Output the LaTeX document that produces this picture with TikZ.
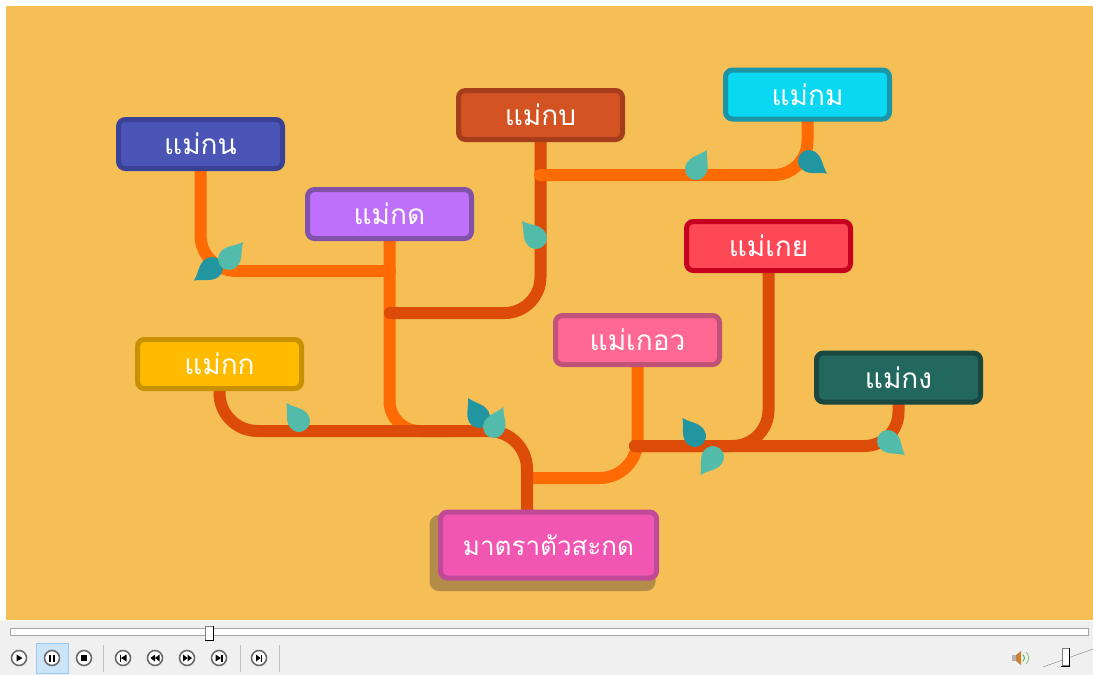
\documentclass[tikz,border=0pt]{standalone}
\usepackage{fontspec}
\newfontfamily\thaifont[Script=Thai]{Loma}
\usetikzlibrary{backgrounds}

\definecolor{stage}{HTML}{F5BF56}
\definecolor{barcol}{HTML}{F0F0F0}
\definecolor{twigcol}{HTML}{FE6A04}
\definecolor{stemcol}{HTML}{DC4B08}
\definecolor{leafA}{HTML}{52BBAA}
\definecolor{leafB}{HTML}{2196A0}
\definecolor{shadowcol}{HTML}{B28C48}
\definecolor{knfill}{HTML}{4A55B5}\definecolor{knline}{HTML}{3A4296}
\definecolor{kdfill}{HTML}{BF70FA}\definecolor{kdline}{HTML}{8052AA}
\definecolor{kbfill}{HTML}{D35322}\definecolor{kbline}{HTML}{A63E1E}
\definecolor{kmfill}{HTML}{0AD7F2}\definecolor{kmline}{HTML}{1A96A8}
\definecolor{koeyfill}{HTML}{FF4855}\definecolor{koeyline}{HTML}{C80020}
\definecolor{keowfill}{HTML}{FF6892}\definecolor{keowline}{HTML}{C0527A}
\definecolor{kkfill}{HTML}{FFBB00}\definecolor{kkline}{HTML}{C99000}
\definecolor{kngfill}{HTML}{22685E}\definecolor{kngline}{HTML}{1A4840}
\definecolor{rootfill}{HTML}{F056B2}\definecolor{rootline}{HTML}{C04A98}
\definecolor{hlfill}{HTML}{CCE4F7}\definecolor{hlline}{HTML}{99C9EF}

\begin{document}
\begin{tikzpicture}[x=1pt,y=-1pt,
    mae/.style={draw, line width=5pt, rounded corners=7pt, inner sep=0pt,
      minimum width=164pt, minimum height=49pt, text=white,
      font=\thaifont\fontsize{28}{30}\selectfont},
    twig/.style={draw=twigcol, line width=12pt, line cap=round, rounded corners=36pt},
    stem/.style={twig, draw=stemcol},
    leaf/.pic={\fill[pic actions] (0,-22) .. controls (4,-13) and (11,-9) .. (11,0)
      .. controls (11,6) and (6,11) .. (0,11) .. controls (-6,11) and (-11,6) .. (-11,0)
      .. controls (-11,-9) and (-4,-13) .. (0,-22) -- cycle;}]
    \useasboundingbox (0,0) rectangle (1093,675);

    \node[mae, fill=knfill, draw=knline] (kn) at (200.5,144) {แม่กน};
    \node[mae, fill=kdfill, draw=kdline] (kd) at (389.5,214) {แม่กด};
    \node[mae, fill=kbfill, draw=kbline] (kb) at (540.5,115) {แม่กบ};
    \node[mae, fill=kmfill, draw=kmline] (km) at (807.5,94.5) {แม่กม};
    \node[mae, fill=koeyfill, draw=koeyline] (koey) at (768.5,246) {แม่เกย};
    \node[mae, fill=keowfill, draw=keowline] (keow) at (637.5,340) {แม่เกอว};
    \node[mae, fill=kkfill, draw=kkline] (kk) at (219.5,364) {แม่กก};
    \node[mae, fill=kngfill, draw=kngline] (kng) at (898.5,377.5) {แม่กง};
    \node[mae, fill=rootfill, draw=rootline, minimum width=216pt, minimum height=66pt,
      font=\thaifont\fontsize{26}{28}\selectfont] (root) at (548.5,545) {มาตราตัวสะกด};

    \coordinate (j1) at (390,271);
    \coordinate (j2) at (390,313);
    \coordinate (j3) at (540,175);
    \coordinate (j4) at (450,431);
    \coordinate (j5) at (527,431);
    \coordinate (j6) at (635,446);
    \coordinate (j7) at (527,478);

    \begin{scope}[on background layer]
    \fill[white] (0,0) rectangle (1093,675);
    \fill[stage] (6,6) rectangle (1093,620);
    \filldraw[shadowcol, line width=5pt, rounded corners=7pt]
      ([shift={(-6,8)}]root.north west) rectangle ([shift={(-6,8)}]root.south east);

    \draw[twig] (kn.south) |- (j1);
    \draw[twig, rounded corners=30pt] (kd.south) |- (j4);
    \draw[twig, rounded corners=38pt] (keow.south) |- (j7);
    \draw[stem] (kb.south) |- (j2);
    \draw[stem] (koey.south) |- (j6);
    \draw[stem, rounded corners=34pt] (kng.south) |- (j6);
    \draw[stem, rounded corners=38pt] (kk.south) |- (j5) -- (j5 |- root.north);
    \draw[twig, rounded corners=34pt] (km.south) |- (j3);

    \pic[fill=leafB, rotate=125] at (212,268) {leaf};
    \pic[fill=leafA, rotate=-40] at (229,259) {leaf};
    \pic[fill=leafA, rotate=40] at (536,238) {leaf};
    \pic[fill=leafA, rotate=-30] at (696,169) {leaf};
    \pic[fill=leafB, rotate=-125] at (809,161) {leaf};
    \pic[fill=leafA, rotate=35] at (299,421) {leaf};
    \pic[fill=leafB, rotate=30] at (479,417) {leaf};
    \pic[fill=leafA, rotate=-25] at (494,427) {leaf};
    \pic[fill=leafB, rotate=35] at (695,436) {leaf};
    \pic[fill=leafA, rotate=145] at (713,457) {leaf};
    \pic[fill=leafA, rotate=-130] at (888,441) {leaf};
    \end{scope}

    % player controls
    \fill[barcol] (0,621) rectangle (1093,675);
    \draw[gray!70, fill=white] (10,628.5) rectangle (1088,635);
    \draw[gray, fill=white] (205,626) rectangle (213,640);
    \draw[black] (213,626) -- (213,640) -- (205,640);
    \draw[hlline, fill=hlfill] (36,643) rectangle (68,673);
    \foreach \bx in {19,52,84,123,155,187,219,259}
      \draw[line width=1.6pt, draw=gray!85!black, fill=white] (\bx,658) circle[radius=7.5pt];
    \fill (16.5,654.5) -- (16.5,661.5) -- (22.5,658) -- cycle;
    \fill (49.2,654.5) rectangle (50.9,661.5);
    \fill (53.1,654.5) rectangle (54.8,661.5);
    \fill (81,655) rectangle (87,661);
    \fill (119.5,654.5) rectangle (121,661.5);
    \fill (126.5,654.5) -- (126.5,661.5) -- (121,658) -- cycle;
    \fill (155,654.5) -- (155,661.5) -- (150.5,658) -- cycle;
    \fill (159.5,654.5) -- (159.5,661.5) -- (155,658) -- cycle;
    \fill (183,654.5) -- (183,661.5) -- (187.5,658) -- cycle;
    \fill (187.5,654.5) -- (187.5,661.5) -- (192,658) -- cycle;
    \fill (215.5,654.5) -- (215.5,661.5) -- (221,658) -- cycle;
    \fill (221,654.5) rectangle (222.5,661.5);
    \fill (256,654.5) -- (256,661.5) -- (260.5,658) -- cycle;
    \fill (260.5,654.5) rectangle (262,661.5);
    \foreach \sx in {103,240,279}
      \draw[gray!50] (\sx,645) -- (\sx,672);
    \fill[gray!60] (1012,655) rectangle (1016,661);
    \fill[orange!60!gray] (1016,655) -- (1021,651) -- (1021,665) -- (1016,661) -- cycle;
    \draw[green!60!black!70, line width=0.9pt] (1023,654.5) to[bend left=50] (1023,661.5);
    \draw[green!60!black!50, line width=0.9pt] (1026,652) to[bend left=50] (1026,664);
    \draw[gray] (1043,667) -- (1093,649);
    \draw[gray, fill=white] (1062,648) rectangle (1069,665);
    \draw[black, line width=1pt] (1069,648) -- (1069,666) -- (1061,666);
\end{tikzpicture}
\end{document}
